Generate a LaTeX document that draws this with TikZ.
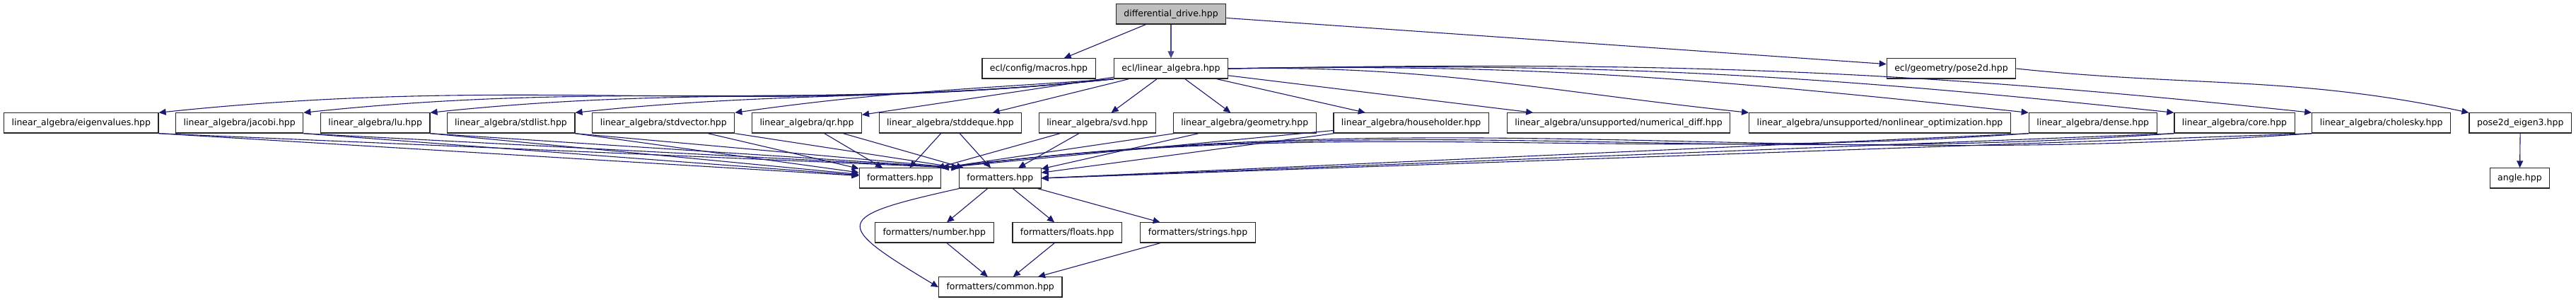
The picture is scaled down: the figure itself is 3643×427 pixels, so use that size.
\documentclass[tikz,border=0pt]{standalone}
\usepackage{fontspec}
\setmainfont{DejaVu Sans}
\usepackage{tikz}
\usetikzlibrary{arrows.meta, positioning}
\usepackage{xcolor}
\definecolor{edgeblue}{HTML}{191970}
\definecolor{rootgray}{HTML}{BFBFBF}

\begin{document}
\begin{tikzpicture}[x=0.5pt, y=0.5pt,
  file/.style={draw=black!85, line width=0.6pt, fill=white, minimum height=14.1pt,
               inner xsep=5.5pt, inner ysep=0pt, font=\fontsize{6.25}{7}\selectfont},
  dep/.style={draw=edgeblue, line width=0.55pt, -{Triangle[length=5pt,width=4.5pt]}},
  farleft/.style={out=186, in=6},
  farright/.style={out=1, in=174},
  backarc/.style={out=184, in=7}]
  \useasboundingbox (0,0) rectangle (3643,427);
  % top levels
  \node[file, fill=rootgray] (drive) at (1656,407) {differential\_drive.hpp};
  \node[file] (macros) at (1469,330) {ecl/config/macros.hpp};
  \node[file] (linalg) at (1656,330) {ecl/linear\_algebra.hpp};
  \node[file] (pose2d) at (2759.5,330) {ecl/geometry/pose2d.hpp};
  % linear algebra headers
  \node[file] (eigenvalues) at (114.8,253) {linear\_algebra/eigenvalues.hpp};
  \node[file] (jacobi) at (338.7,253) {linear\_algebra/jacobi.hpp};
  \node[file] (lu) at (530.7,253) {linear\_algebra/lu.hpp};
  \node[file] (stdlist) at (722.5,253) {linear\_algebra/stdlist.hpp};
  \node[file] (stdvector) at (938.3,253) {linear\_algebra/stdvector.hpp};
  \node[file] (qr) at (1141,253) {linear\_algebra/qr.hpp};
  \node[file] (stddeque) at (1344,253) {linear\_algebra/stddeque.hpp};
  \node[file] (svd) at (1551.7,253) {linear\_algebra/svd.hpp};
  \node[file] (geometry) at (1760.2,253) {linear\_algebra/geometry.hpp};
  \node[file] (householder) at (1995.6,253) {linear\_algebra/householder.hpp};
  \node[file] (numdiff) at (2289,253) {linear\_algebra/unsupported/numerical\_diff.hpp};
  \node[file] (nonlin) at (2658.5,253) {linear\_algebra/unsupported/nonlinear\_optimization.hpp};
  \node[file] (dense) at (2959.7,253) {linear\_algebra/dense.hpp};
  \node[file] (core) at (3160,253) {linear\_algebra/core.hpp};
  \node[file] (cholesky) at (3367.6,253) {linear\_algebra/cholesky.hpp};
  \node[file] (eigenthree) at (3564.2,253) {pose2d\_eigen3.hpp};
  % formatters
  \node[file] (fmtla) at (1273,175) {formatters.hpp};
  \node[file] (fmtecl) at (1414.3,175) {formatters.hpp};
  \node[file] (angle) at (3563.4,175) {angle.hpp};
  \node[file] (number) at (1321.3,98) {formatters/number.hpp};
  \node[file] (floats) at (1509.2,98) {formatters/floats.hpp};
  \node[file] (strings) at (1694,98) {formatters/strings.hpp};
  \node[file] (common) at (1414.7,21) {formatters/common.hpp};

  % includes of the root
  \draw[dep] (drive) -- (macros);
  \draw[dep, draw=edgeblue!80] (drive) -- (linalg);
  \draw[dep] (drive) -- (pose2d);
  \draw[dep] (pose2d.east) to[out=-6, in=168] (eigenthree.north west);
  \draw[dep] (eigenthree) -- (angle);
  % ecl/linear_algebra.hpp
  \draw[dep] (linalg.south west) to[farleft] (eigenvalues.north east);
  \draw[dep] (linalg.south west) to[farleft] (jacobi.north east);
  \draw[dep] (linalg.south west) to[farleft] (lu.north east);
  \draw[dep] (linalg.south west) to[farleft] (stdlist.north east);
  \draw[dep] (linalg.south west) to[out=184, in=8] (stdvector.north east);
  \draw[dep] (linalg) -- (qr);
  \draw[dep] (linalg) -- (stddeque);
  \draw[dep] (linalg) -- (svd);
  \draw[dep] (linalg) -- (geometry);
  \draw[dep] (linalg) -- (householder);
  \draw[dep] (linalg) -- (numdiff);
  \draw[dep] (linalg.east) to[farright] (nonlin.north west);
  \draw[dep] (linalg.east) to[farright] (dense.north west);
  \draw[dep] (linalg.east) to[farright] (core.north west);
  \draw[dep] (linalg.east) to[farright] (cholesky.north west);
  % headers to formatters
  \draw[dep] (eigenvalues.south east) -- (fmtla);
  \draw[dep] (eigenvalues.south east) -- (fmtecl.north west);
  \draw[dep] (jacobi.south east) -- (fmtla);
  \draw[dep] (jacobi.south east) -- (fmtecl.north west);
  \draw[dep] (lu.south east) -- (fmtla);
  \draw[dep] (lu.south east) -- (fmtecl.north west);
  \draw[dep] (stdlist.south east) -- (fmtla);
  \draw[dep] (stdlist.south east) -- (fmtecl.north west);
  \draw[dep] (stdvector) -- (fmtla);
  \draw[dep] (stdvector.south east) -- (fmtecl.north west);
  \draw[dep] (qr) -- (fmtla);
  \draw[dep] (qr) -- (fmtecl);
  \draw[dep] (stddeque) -- (fmtla);
  \draw[dep] (stddeque) -- (fmtecl);
  \draw[dep] (svd) -- (fmtla);
  \draw[dep] (svd) -- (fmtecl);
  \draw[dep] (geometry) -- (fmtla.north east);
  \draw[dep] (geometry) -- (fmtecl);
  \draw[dep] (householder) -- (fmtla.north east);
  \draw[dep] (householder) -- (fmtecl);
  \draw[dep] (dense.south west) to[backarc] (fmtla.north east);
  \draw[dep] (dense.south west) -- (fmtecl.east);
  \draw[dep] (core.south west) to[backarc] (fmtla.north east);
  \draw[dep] (core.south west) -- (fmtecl.east);
  \draw[dep] (cholesky.south west) to[backarc] (fmtla.north east);
  \draw[dep] (cholesky.south west) -- (fmtecl.east);
  % formatters
  \draw[dep] (fmtecl) -- (number);
  \draw[dep] (fmtecl) -- (floats);
  \draw[dep] (fmtecl) -- (strings);
  \draw[dep] (fmtecl.south west) .. controls +(-180,-40) and +(-150,90) .. (common.west);
  \draw[dep] (number) -- (common);
  \draw[dep] (floats) -- (common);
  \draw[dep] (strings) -- (common);
\end{tikzpicture}
\end{document}
